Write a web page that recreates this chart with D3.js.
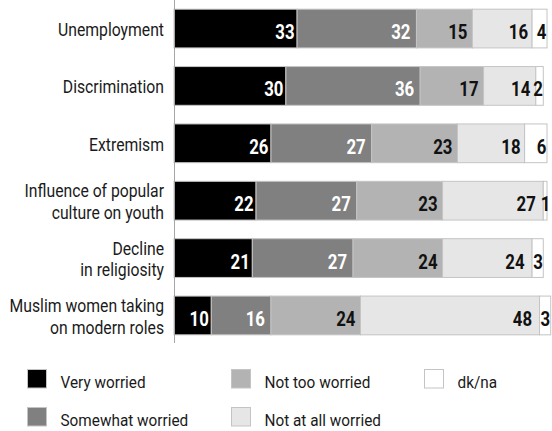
<!DOCTYPE html>
<html>
<head>
<meta charset="utf-8">
<script src="https://cdn.jsdelivr.net/npm/d3@7"></script>
<style>
  html, body { margin: 0; padding: 0; background: #fff; }
  svg text { font-family: Roboto, "Noto Sans", sans-serif; }
</style>
</head>
<body>
<svg id="chart" width="552" height="431"></svg>
<script>
// Worry about issues facing Muslims (percent)
const categories = [
  ["Unemployment"],
  ["Discrimination"],
  ["Extremism"],
  ["Influence of popular", "culture on youth"],
  ["Decline", "in religiosity"],
  ["Muslim women taking", "on modern roles"]
];
const seriesNames = ["Very worried", "Somewhat worried", "Not too worried", "Not at all worried", "dk/na"];
const veryWorried     = [33, 30, 26, 22, 21, 10];
const somewhatWorried = [32, 36, 27, 27, 27, 16];
const notTooWorried   = [15, 17, 23, 23, 24, 24];
const notAtAllWorried = [16, 14, 18, 27, 24, 48];
const dkNa            = [4, 2, 6, 1, 3, 3];

const fills = ["#000000", "#808080", "#b3b3b3", "#e6e6e6", "#ffffff"];
const labelColors = ["#ffffff", "#ffffff", "#111111", "#111111", "#111111"];
const labelPad = [2.5, 6, 5, 4, 0.5]; // gap between a value label and its segment's right edge

const seriesValues = [veryWorried, somewhatWorried, notTooWorried, notAtAllWorried, dkNa];
const rows = categories.map((c, i) => {
  const r = { key: i, label: c };
  seriesNames.forEach((s, j) => r[s] = seriesValues[j][i]);
  return r;
});
const stacked = d3.stack().keys(seriesNames)(rows);

const svg = d3.select("#chart");
const x = d3.scaleLinear().domain([0, 100]).range([174, 547]);
const y = d3.scaleBand().domain(d3.range(categories.length)).range([0, 344])
  .paddingInner(0.325).paddingOuter(0.16);

// bars
const layer = svg.append("g").selectAll("g").data(stacked).join("g")
  .attr("fill", (d, i) => fills[i]);
layer.selectAll("rect").data(d => d).join("rect")
  .attr("x", d => x(d[0]))
  .attr("y", (d, i) => y(i))
  .attr("width", d => x(d[1]) - x(d[0]))
  .attr("height", y.bandwidth())
  .attr("stroke", "#c4c4c4")
  .attr("stroke-width", 1);

// value labels, right aligned inside each segment
const lab = svg.append("g").selectAll("g").data(stacked).join("g")
  .attr("fill", (d, i) => labelColors[i]);
lab.each(function(series, si) {
  d3.select(this).selectAll("text").data(series).join("text")
    .attr("transform", (d, i) => {
      const v = d[1] - d[0];
      let pad = labelPad[si];
      // leave room for the label of a very thin segment that follows
      if (si === 3 && dkNa[i] <= 3) pad = v >= 20 ? 7.5 : 5.5;
      // a lone "1" has wide side bearings; let it sit against the edge
      if (si === 4 && v === 1) pad = -3.5;
      return `translate(${x(d[1]) - pad},${y(i) + y.bandwidth() / 2 + 10.5}) scale(0.84,1)`;
    })
    .attr("text-anchor", "end")
    .attr("font-size", 20)
    .attr("font-weight", "bold")
    .text(d => d[1] - d[0]);
});

// vertical axis line
svg.append("line")
  .attr("x1", 174.5).attr("x2", 174.5)
  .attr("y1", 0).attr("y2", 343)
  .attr("stroke", "#a6a6a6").attr("stroke-width", 1);

// category labels
const lh = 21.6;
const cat = svg.append("g").selectAll("text").data(categories).join("text")
  .attr("transform", (lines, i) => {
    const cy = y(i) + y.bandwidth() / 2;
    const top = cy - (lines.length - 1) * lh / 2 + 7.5;
    return `translate(164,${top}) scale(0.9,1)`;
  })
  .attr("text-anchor", "end")
  .attr("font-size", 17.5)
  .attr("fill", "#1a1a1a");
cat.selectAll("tspan").data(d => d).join("tspan")
  .attr("x", 0)
  .attr("y", (l, k) => k * lh)
  .text(l => l);

// legend
const legendPos = [[27, 369], [27, 407], [231, 369], [231, 407], [424, 369]];
const lg = svg.append("g").selectAll("g").data(seriesNames).join("g")
  .attr("transform", (d, i) => `translate(${legendPos[i][0]},${legendPos[i][1]})`);
lg.append("rect")
  .attr("x", 0.5).attr("y", 0.5)
  .attr("width", 19).attr("height", 18.5)
  .attr("fill", (d, i) => fills[i])
  .attr("stroke", "#c4c4c4");
lg.append("text")
  .attr("transform", "translate(33.5,19) scale(0.93,1)")
  .attr("font-size", 16.5)
  .attr("fill", "#1a1a1a")
  .text(d => d);
</script>
</body>
</html>
